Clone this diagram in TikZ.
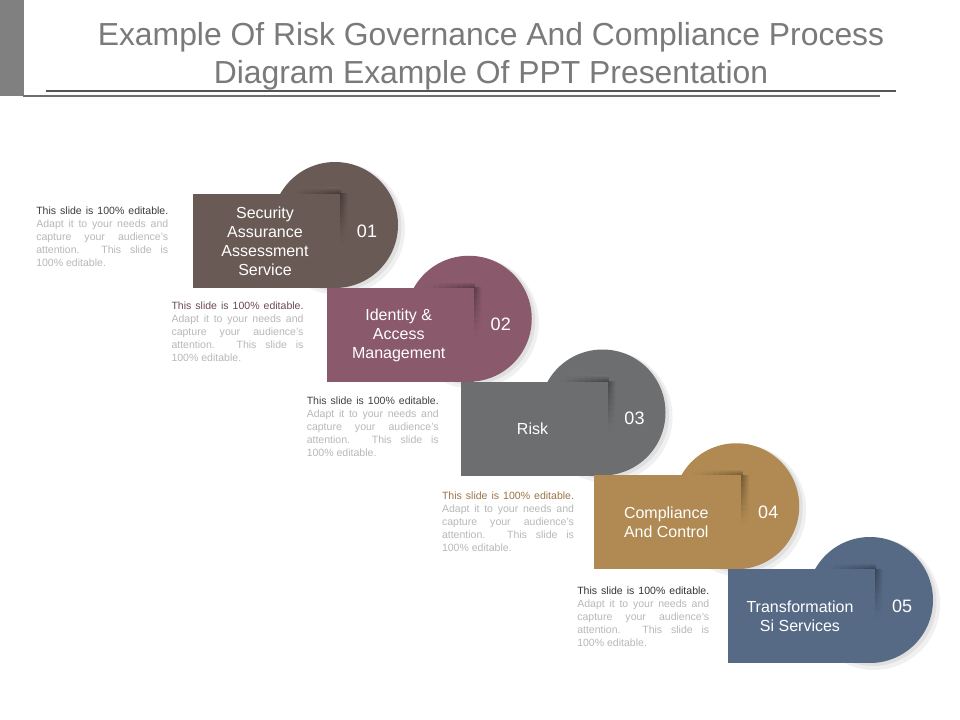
\documentclass[tikz,border=0pt]{standalone}
\usepackage{fontspec}
\setmainfont{Liberation Sans}
\definecolor{c1}{HTML}{6A5A55}
\definecolor{c2}{HTML}{8A5A6C}
\definecolor{c3}{HTML}{6D6E6F}
\definecolor{c4}{HTML}{B08A52}
\definecolor{c5}{HTML}{566A86}
\definecolor{t1}{HTML}{3C3C3C}
\definecolor{t2}{HTML}{6A4A5A}
\definecolor{t3}{HTML}{404040}
\definecolor{t4}{HTML}{9A7444}
\definecolor{t5}{HTML}{333333}
\definecolor{lightt}{HTML}{B8B8B8}
\definecolor{titlec}{HTML}{7A7A7A}
\definecolor{barc}{HTML}{808080}
\definecolor{linea}{HTML}{555555}
\definecolor{lineb}{HTML}{6E6E6E}
\tikzset{
  lab/.style={text=white, font=\fontsize{12}{14.25}\selectfont, align=center, inner sep=0pt},
  numlab/.style={text=white, font=\fontsize{13.5}{15}\selectfont, inner sep=0pt},
  side/.style={anchor=north west, inner sep=0pt, text width=99pt, align=justify,
    font=\fontsize{7.9}{9.75}\selectfont, text=lightt},
}
\begin{document}
\begin{tikzpicture}[x=0.75pt,y=-0.75pt]
\useasboundingbox (0,0) rectangle (960,720);
\fill[white] (0,0) rectangle (960,720);
% header
\fill[barc] (0,0) rectangle (24,96);
\node[text=titlec, font=\fontsize{23.9}{28.5}\selectfont, align=center, inner sep=0pt] (title) at (491,56)
  {Example Of Risk Governance And Compliance Process\\Diagram Example Of PPT Presentation};
\coordinate (la) at (46,91); \coordinate (lb) at (896,91);
\coordinate (lc) at (23,96); \coordinate (ld) at (880,96);
\draw[line width=1.5pt, linea] (la) -- (lb);
\draw[line width=1.1pt, lineb] (lc) -- (ld);
% steps
\foreach \i/\col/\tcol/\lab/\num in {
  0/c1/t1/{Security\\Assurance\\Assessment\\Service}/01,
  1/c2/t2/{Identity \&\\Access\\Management}/02,
  2/c3/t3/{Risk}/03,
  3/c4/t4/{Compliance\\And Control}/04,
  4/c5/t5/{Transformation\\Si Services}/05}{
  \pgfmathsetmacro\L{193+133.75*\i}
  \pgfmathsetmacro\T{194+93.75*\i}
  \pgfmathsetmacro\R{\L+147}
  % circle shadow
  \fill[black!6] (\L+146,\T+35) circle (66);
  \fill[black!12] (\L+144.5,\T+33) circle (64);
  % circle
  \fill[\col] (\L+142,\T+31) circle (63);
  % fold shadows
  \foreach \k in {0,...,7}{
    \pgfmathtruncatemacro\m{62+5*\k}
    \shade[left color=\col!\m!black, right color=\col] (\R-1,\T+6*\k) rectangle (\R+8,\T+6*\k+6.5);
    \shade[top color=\col, bottom color=\col!\m!black] (\R+1-6*\k-6.5,\T-6) rectangle (\R+1-6*\k,\T);
  }
  % rectangle
  \fill[\col] (\L,\T) rectangle (\R,\T+94);
  \node[lab] (lab\i) at (\L+72,\T+47.5) {\lab};
  \node[numlab] (num\i) at (\L+174,\T+37) {\num};
  \node[side] (side\i) at (36+135.25*\i,207+95*\i)
    {\textcolor{\tcol}{This slide is 100\% editable.}\linebreak Adapt it to your needs and\linebreak capture your audience's\linebreak attention. This slide is\linebreak 100\% editable.};
}
\end{tikzpicture}
\end{document}
